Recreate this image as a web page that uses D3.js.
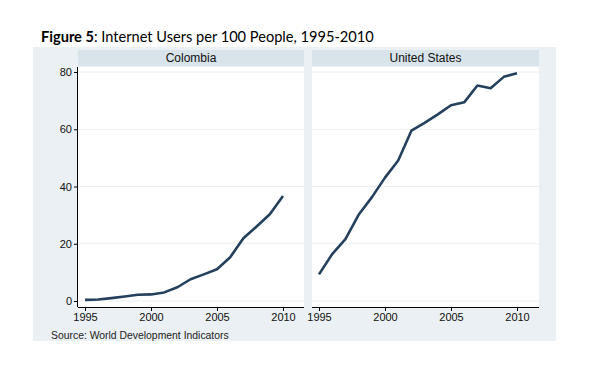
<!DOCTYPE html>
<html><head><meta charset="utf-8">
<script src="https://cdn.jsdelivr.net/npm/d3@7"></script>
<style>body{margin:0;background:#fff}</style>
</head><body>
<script>
const years = [1995,1996,1997,1998,1999,2000,2001,2002,2003,2004,2005,2006,2007,2008,2009,2010];
const colombia = [0.4,0.5,1.0,1.6,2.2,2.3,3.0,4.8,7.6,9.3,11.1,15.3,21.9,26.0,30.3,36.7];
const unitedStates = [9.3,16.4,21.6,30.1,36.2,43.1,49.1,59.5,62.2,65.2,68.4,69.4,75.3,74.3,78.3,79.6];
const panels = ["Colombia","United States"];
const yTicks = [0,20,40,60,80];
const xTicks = [1995,2000,2005,2010];

const W = 604, H = 377;
const svg = d3.select("body").append("svg").attr("width",W).attr("height",H);

// title
const title = svg.append("text").attr("x",41).attr("y",42)
  .style("font-family","Lato, 'Open Sans', sans-serif").style("font-size","14.6px").attr("fill","#000");
title.append("tspan").attr("font-weight","bold").text("Figure 5");
title.append("tspan").text(": Internet Users per 100 People, 1995-2010");

// outer background
svg.append("rect").attr("x",33).attr("y",47).attr("width",523).attr("height",294).attr("fill","#eaf0f3");

const y = d3.scaleLinear().domain([0,80]).range([301,72]);
const panelX = [[78,304],[312,539]];
const series = [colombia, unitedStates];

panels.forEach((name,i)=>{
  const [x0,x1] = panelX[i];
  const x = d3.scaleLinear().domain([1995,2010]).range([x0+7, x0+205]);
  const g = svg.append("g");
  // strip
  g.append("rect").attr("x",x0).attr("y",50).attr("width",x1-x0).attr("height",16).attr("fill","#d8e3ea");
  g.append("text").attr("x",(x0+x1)/2).attr("y",62).attr("text-anchor","middle")
    .style("font-family","Arial, 'Liberation Sans', sans-serif").style("font-size","12px").attr("fill","#111").text(name);
  // plot area
  g.append("rect").attr("x",x0).attr("y",67).attr("width",x1-x0).attr("height",240).attr("fill","#fff");
  // grid
  g.selectAll("line.grid").data(yTicks).join("line").attr("class","grid")
    .attr("x1",x0).attr("x2",x1).attr("y1",d=>y(d)).attr("y2",d=>y(d))
    .attr("stroke","#eaf0f2").attr("stroke-width",1);
  // x axis
  const xa = g.append("g").attr("transform","translate(0,307)")
    .call(d3.axisBottom(x).tickValues(xTicks).tickFormat(d3.format("d")).tickSize(4).tickPadding(2));
  xa.select(".domain").attr("d",`M${x0},0.5H${x1}`).attr("stroke","#000");
  xa.selectAll("text").style("font-family","Arial, 'Liberation Sans', sans-serif").style("font-size","11px").attr("fill","#111");
  if(i===0){
    const ya = g.append("g").attr("transform",`translate(${x0},0)`)
      .call(d3.axisLeft(y).tickValues(yTicks).tickSize(4).tickPadding(2));
    ya.select(".domain").attr("d",`M-0.5,67V307`).attr("stroke","#000");
    ya.selectAll("text").style("font-family","Arial, 'Liberation Sans', sans-serif").style("font-size","11px").attr("fill","#111");
  }
  // line
  const line = d3.line().x((d,j)=>x(years[j])).y(d=>y(d));
  g.append("path").datum(series[i]).attr("d",line).attr("fill","none")
    .attr("stroke","#24405d").attr("stroke-width",2.6).attr("stroke-linejoin","round");
});

svg.append("text").attr("x",51).attr("y",339)
  .style("font-family","Arial, 'Liberation Sans', sans-serif").style("font-size","10.4px").attr("fill","#222")
  .text("Source: World Development Indicators");
</script>
</body></html>
